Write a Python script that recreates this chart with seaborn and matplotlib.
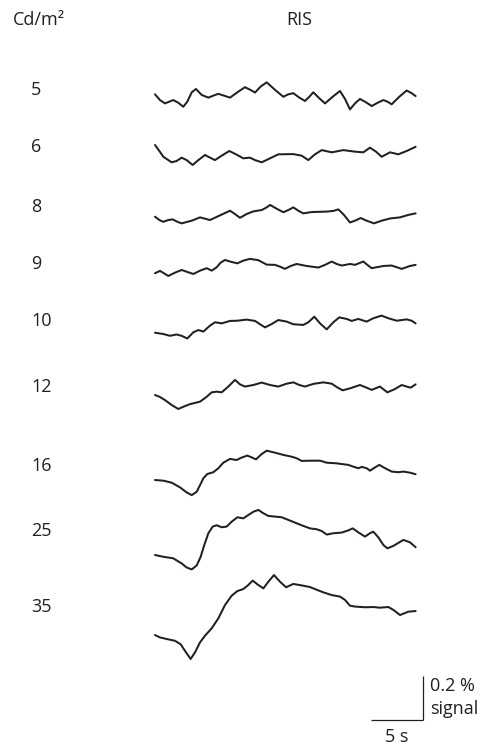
import numpy as np
import pandas as pd
import matplotlib
matplotlib.use("Agg")
import matplotlib.pyplot as plt
import seaborn as sns

# Luminance levels (Cd/m²) of the stacked recordings, top to bottom
luminance = ["5", "6", "8", "9", "10", "12", "16", "25", "35"]

# Time (s) and signal change (%) of each recording
t_5 = [0, 0.48, 0.96, 1.38, 1.76, 2.24, 2.72, 3.11, 3.53, 3.94, 4.49, 5.13, 5.61, 6.09, 6.63, 7.21,
       7.92, 8.65, 9.13, 9.62, 10.16, 10.74, 11.54, 12.34, 12.82, 13.3, 13.88, 14.42, 14.84, 15.22,
       15.8, 16.35, 17.08, 17.79, 18.27, 18.75, 19.23, 19.71, 20.29, 20.83, 21.41, 21.96, 22.34,
       22.76, 23.49, 24.2, 24.68, 25.06]
sig_5 = [0, -0.026, -0.041, -0.033, -0.026, -0.038, -0.056, -0.033, 0.009, 0.024, -0.003, -0.015,
         -0.006, 0.002, -0.006, -0.015, 0.009, 0.032, 0.021, 0.008, 0.035, 0.054, 0.020, -0.011,
         0.000, 0.005, -0.015, -0.030, -0.011, 0.009, -0.018, -0.041, -0.011, 0.015, -0.021, -0.068,
         -0.041, -0.021, -0.036, -0.053, -0.038, -0.026, -0.033, -0.045, -0.011, 0.017, 0.005, -0.008]

t_6 = [0, 0.42, 0.8, 1.6, 2.08, 2.56, 3.04, 3.62, 4.17, 4.81, 5.29, 5.77, 6.41, 7.15, 7.79, 8.49,
       9.13, 9.62, 10.26, 11.06, 11.86, 13.3, 14.1, 14.74, 15.38, 16.03, 16.99, 18.11, 19.23, 20.03,
       20.67, 21.25, 21.79, 22.6, 23.4, 24.2, 25.06]
sig_6 = [0, -0.027, -0.053, -0.078, -0.072, -0.057, -0.068, -0.09, -0.068, -0.045, -0.057, -0.068,
         -0.048, -0.027, -0.042, -0.06, -0.057, -0.068, -0.078, -0.06, -0.042, -0.041, -0.048,
         -0.068, -0.042, -0.023, -0.033, -0.023, -0.03, -0.033, -0.012, -0.03, -0.053, -0.033,
         -0.042, -0.027, -0.008]

t_8 = [0, 0.42, 0.8, 1.28, 1.7, 2.15, 2.56, 3.53, 4.33, 4.81, 5.29, 6.25, 7.21, 7.69, 8.17, 8.81,
       9.46, 10.26, 10.74, 11.06, 11.7, 12.34, 12.82, 13.3, 13.78, 14.26, 15.06, 16.51, 17.15, 17.63,
       18.17, 18.75, 19.23, 19.78, 20.35, 21.06, 21.79, 22.6, 23.56, 24.36, 25.06]
sig_8 = [0, -0.015, -0.023, -0.015, -0.012, -0.023, -0.03, -0.018, -0.003, -0.009, -0.015, 0.006,
         0.027, 0.012, -0.005, 0.012, 0.024, 0.03, 0.042, 0.053, 0.036, 0.02, 0.03, 0.042, 0.027,
         0.015, 0.021, 0.023, 0.026, 0.033, 0.008, -0.026, -0.018, -0.006, -0.018, -0.03, -0.018,
         -0.008, -0.003, 0.008, 0.015]

t_9 = [0, 0.48, 1.28, 1.92, 2.56, 3.11, 3.69, 4.33, 4.97, 5.45, 5.93, 6.31, 6.73, 7.37, 7.92, 8.49,
       9.13, 9.94, 10.74, 11.54, 12.02, 12.5, 13.05, 13.62, 14.58, 15.71, 16.35, 16.99, 17.47, 17.95,
       18.75, 19.23, 20.03, 20.42, 20.83, 21.96, 22.76, 23.72, 24.52, 25.06]
sig_9 = [0, 0.011, -0.012, 0.003, 0.015, 0.006, -0.003, 0.012, 0.023, 0.012, 0.027, 0.048, 0.06,
         0.051, 0.045, 0.057, 0.065, 0.059, 0.039, 0.038, 0.03, 0.02, 0.033, 0.042, 0.033, 0.026,
         0.038, 0.053, 0.042, 0.035, 0.042, 0.038, 0.053, 0.038, 0.023, 0.033, 0.035, 0.02, 0.033,
         0.038]

t_10 = [0, 0.8, 1.44, 2.08, 2.56, 3.11, 3.69, 4.17, 4.65, 5.29, 5.77, 6.41, 7.21, 7.92, 8.81, 9.62,
        10.1, 10.58, 11.22, 11.86, 12.66, 13.3, 14.26, 14.74, 15.32, 15.87, 16.51, 17.15, 17.72,
        18.43, 18.91, 19.55, 20.35, 20.99, 21.79, 22.44, 23.24, 24.2, 24.68, 25.06]
sig_10 = [0, -0.006, -0.014, -0.008, -0.014, -0.026, 0.002, 0.012, 0.005, 0.032, 0.047, 0.042,
          0.053, 0.054, 0.059, 0.053, 0.038, 0.024, 0.039, 0.057, 0.05, 0.038, 0.035, 0.047, 0.072,
          0.042, 0.015, 0.047, 0.069, 0.062, 0.053, 0.062, 0.05, 0.065, 0.077, 0.065, 0.054, 0.06,
          0.054, 0.042]

t_12 = [0, 0.48, 0.96, 1.6, 2.24, 2.72, 3.37, 4.33, 4.97, 5.45, 5.93, 6.41, 7.05, 7.69, 8.17, 8.65,
        9.46, 10.26, 11.06, 11.86, 12.66, 13.3, 13.88, 14.42, 15.22, 16.19, 16.99, 17.47, 18.04,
        18.75, 19.71, 20.35, 20.83, 21.63, 22.34, 23.08, 23.72, 24.2, 24.58, 25.06]
sig_12 = [0, -0.009, -0.023, -0.045, -0.063, -0.053, -0.041, -0.03, -0.008, 0.012, 0.015, 0.012,
          0.038, 0.068, 0.048, 0.038, 0.045, 0.056, 0.045, 0.038, 0.051, 0.057, 0.045, 0.038, 0.05,
          0.057, 0.051, 0.036, 0.021, 0.03, 0.045, 0.033, 0.023, 0.038, 0.012, 0.027, 0.045, 0.038,
          0.033, 0.048]

t_16 = [0, 0.8, 1.6, 2.4, 3.04, 3.53, 4.01, 4.33, 4.65, 5.03, 5.61, 6.09, 6.57, 7.21, 7.85, 8.33,
        8.88, 9.29, 9.71, 10.26, 10.74, 11.38, 12.34, 13.14, 13.62, 14.1, 14.9, 15.87, 16.51, 17.47,
        18.59, 19.07, 19.55, 19.87, 20.35, 20.67, 21.06, 21.57, 22.12, 22.76, 23.4, 23.88, 24.52,
        25.06]
sig_16 = [0, -0.003, -0.012, -0.033, -0.056, -0.068, -0.053, -0.023, 0.008, 0.027, 0.035, 0.053,
          0.078, 0.095, 0.09, 0.101, 0.11, 0.102, 0.093, 0.117, 0.132, 0.125, 0.113, 0.105, 0.098,
          0.086, 0.087, 0.087, 0.078, 0.075, 0.068, 0.06, 0.053, 0.059, 0.053, 0.042, 0.054, 0.068,
          0.053, 0.038, 0.035, 0.038, 0.033, 0.026]

t_25 = [0, 0.8, 1.76, 2.56, 3.04, 3.53, 4.01, 4.39, 4.74, 5.13, 5.55, 5.93, 6.41, 6.89, 7.37, 7.92,
        8.49, 8.97, 9.46, 9.94, 10.42, 10.9, 11.54, 12.18, 12.82, 13.62, 14.26, 14.9, 15.54, 16.03,
        16.51, 17.15, 17.95, 18.59, 19.01, 19.55, 20.19, 20.67, 20.99, 21.47, 21.96, 22.34, 22.92,
        23.88, 24.52, 25.06]
sig_25 = [0, -0.008, -0.015, -0.038, -0.056, -0.065, -0.047, -0.008, 0.045, 0.098, 0.128, 0.134,
          0.125, 0.128, 0.15, 0.17, 0.165, 0.18, 0.195, 0.203, 0.188, 0.176, 0.173, 0.17, 0.158,
          0.143, 0.131, 0.12, 0.116, 0.108, 0.092, 0.098, 0.101, 0.111, 0.12, 0.102, 0.083, 0.098,
          0.105, 0.08, 0.045, 0.03, 0.041, 0.068, 0.057, 0.035]

t_35 = [0, 0.48, 1.12, 1.92, 2.47, 2.98, 3.43, 3.85, 4.33, 4.81, 5.45, 6.09, 6.73, 7.37, 7.92, 8.49,
        8.97, 9.39, 9.94, 10.42, 10.9, 11.44, 12.02, 12.6, 13.3, 14.26, 14.9, 15.54, 16.19, 16.99,
        17.79, 18.27, 18.75, 19.23, 20.19, 20.99, 21.63, 22.44, 22.92, 23.56, 24.36, 25.06]
sig_35 = [0, -0.011, -0.018, -0.026, -0.042, -0.078, -0.108, -0.078, -0.033, -0.003, 0.03, 0.075,
          0.135, 0.177, 0.198, 0.207, 0.225, 0.245, 0.225, 0.21, 0.24, 0.27, 0.24, 0.215, 0.23,
          0.222, 0.216, 0.204, 0.192, 0.18, 0.173, 0.158, 0.132, 0.128, 0.125, 0.126, 0.123, 0.126,
          0.113, 0.09, 0.105, 0.108]

times = [t_5, t_6, t_8, t_9, t_10, t_12, t_16, t_25, t_35]
signals = [sig_5, sig_6, sig_8, sig_9, sig_10, sig_12, sig_16, sig_25, sig_35]

# Scale bar size
BAR_TIME = 5.0    # s
BAR_SIGNAL = 0.2  # %

# ---- layout (figure pixels) ----
W, H = 493, 750
PX_PER_S = 10.4
PX_PER_PCT = 222.0
X0 = 155                     # column where the recordings start
trace_rows = [94.3, 145, 216.7, 273.3, 332.7, 395, 480, 555, 635]
label_rows = [90, 147, 207, 264, 321, 387, 466, 531, 607]
INK = "#231f20"


def to_data(px, py):
    """Figure pixel position -> (time, signal) axis coordinates."""
    return (px - X0) / PX_PER_S, -py / PX_PER_PCT


sns.set_theme(style="white")
plt.rcParams["font.family"] = ["Open Sans", "DejaVu Sans"]

fig = plt.figure(figsize=(W / 100, H / 100), dpi=100)
ax = fig.add_axes([0, 0, 1, 1])
ax.set_xlim(-X0 / PX_PER_S, (W - X0) / PX_PER_S)
ax.set_ylim(-H / PX_PER_PCT, 0)
ax.axis("off")

for lum, t, s, row in zip(luminance, times, signals, trace_rows):
    base = to_data(X0, row)[1]
    df = pd.DataFrame({"time": t, "signal": np.asarray(s) + base})
    sns.lineplot(data=df, x="time", y="signal", ax=ax, color=INK, linewidth=1.45,
                 estimator=None, sort=False, legend=False,
                 solid_joinstyle="round", solid_capstyle="round")

FS = 13
for lum, row in zip(luminance, label_rows):
    x, y = to_data(31, row)
    ax.text(x, y, lum, fontsize=FS, color=INK, ha="left", va="center")

x, y = to_data(13, 20)
ax.text(x, y, "Cd/m²", fontsize=FS, color=INK, ha="left", va="center")
x, y = to_data(299, 20)
ax.text(x, y, "RIS", fontsize=FS, color=INK, ha="center", va="center")

# scale bar: 5 s horizontal, 0.2 % vertical
bx, by = to_data(423, 720)
ax.plot([bx - BAR_TIME, bx], [by, by], color=INK, linewidth=0.9, solid_capstyle="butt")
ax.plot([bx, bx], [by, by + BAR_SIGNAL], color=INK, linewidth=0.9, solid_capstyle="butt")
x, y = to_data(430, 686)
ax.text(x, y, "0.2 %", fontsize=FS, color=INK, ha="left", va="center")
x, y = to_data(430, 709)
ax.text(x, y, "signal", fontsize=FS, color=INK, ha="left", va="center")
x, y = to_data(397, 737)
ax.text(bx - BAR_TIME / 2, y, "5 s", fontsize=FS, color=INK, ha="center", va="center")

fig.savefig("out.png", dpi=100, facecolor="white")
